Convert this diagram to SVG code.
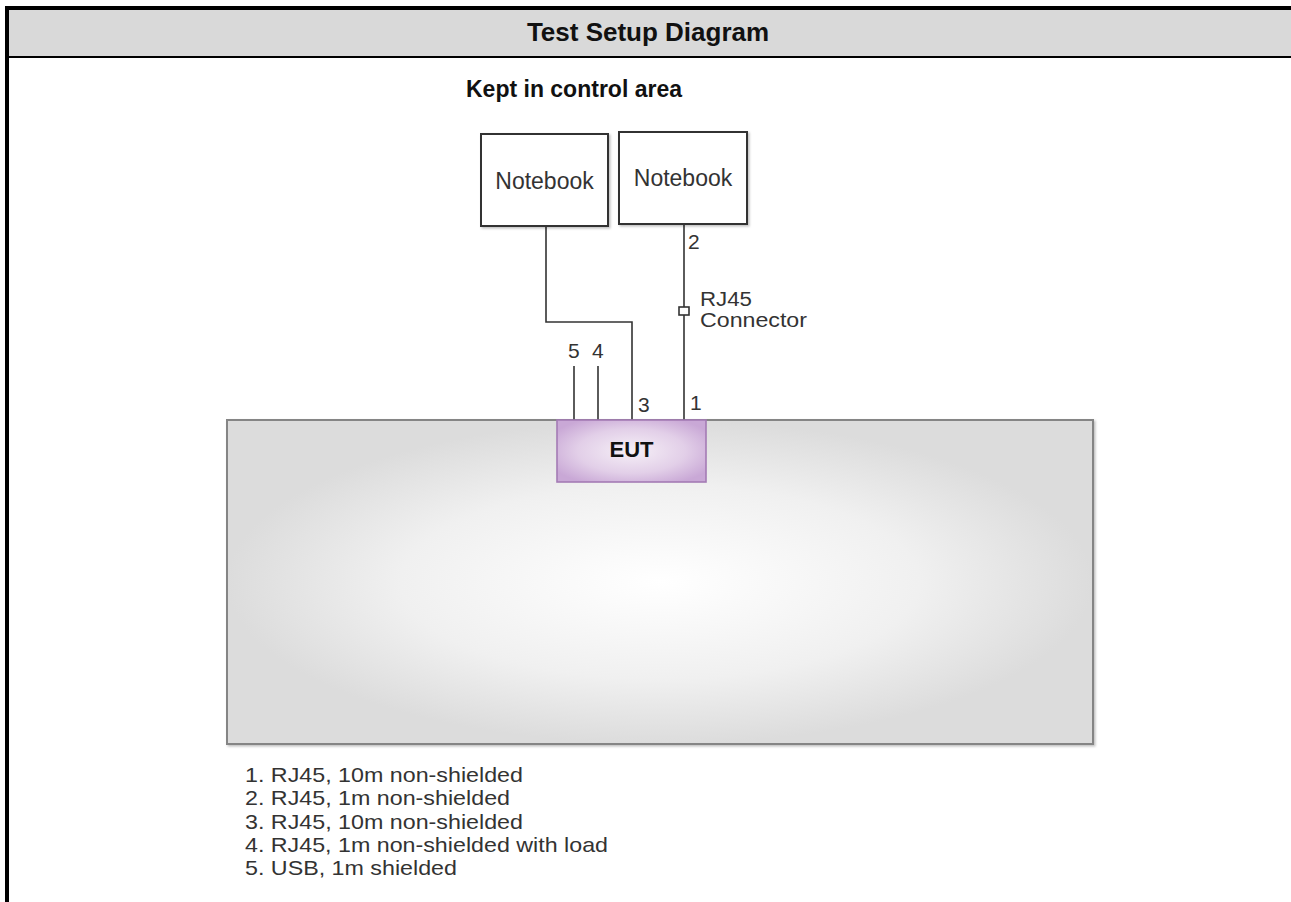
<svg xmlns="http://www.w3.org/2000/svg" width="1291" height="902" viewBox="0 0 1291 902">
<defs>
<radialGradient id="tableGrad" cx="0.5" cy="0.5" r="0.5">
<stop offset="0" stop-color="#ffffff"/>
<stop offset="0.6" stop-color="#f0f0f0"/>
<stop offset="1" stop-color="#dcdcdc"/>
</radialGradient>
<radialGradient id="eutGrad" cx="0.5" cy="0.5" r="0.6">
<stop offset="0" stop-color="#f6f0f7"/>
<stop offset="0.6" stop-color="#e2cfe8"/>
<stop offset="1" stop-color="#c9a8d6"/>
</radialGradient>
<filter id="shadow" x="-10%" y="-10%" width="130%" height="130%">
<feDropShadow dx="1.5" dy="1.5" stdDeviation="1" flood-color="#000" flood-opacity="0.25"/>
</filter>
</defs>
<style>
.t { font-family: "Liberation Sans", Arial, sans-serif; fill: #333; }
.b { font-family: "Liberation Sans", Arial, sans-serif; font-weight: bold; fill: #111; }
.wire { fill: none; stroke: #333; stroke-width: 1.6; }
.nb { fill: #fff; stroke: #333; stroke-width: 2; }
</style>
<rect x="0" y="0" width="1291" height="902" fill="#fff"/>
<!-- table frame -->
<rect x="9" y="10" width="1282" height="46" fill="#d9d9d9"/>
<rect x="5" y="6" width="1286" height="4" fill="#000"/>
<rect x="5" y="6" width="4" height="896" fill="#000"/>
<rect x="9" y="56" width="1282" height="2" fill="#000"/>
<text class="b" x="648" y="41" font-size="26" text-anchor="middle">Test Setup Diagram</text>
<text class="b" x="466" y="97" font-size="23">Kept in control area</text>

<g id="table">
<rect x="227" y="420" width="866" height="324" fill="url(#tableGrad)" stroke="#858585" stroke-width="2" filter="url(#shadow)"/>
</g>

<g id="connectors">
<polyline class="wire" points="546,226 546,322 632,322 632,420"/>
<line class="wire" x1="684" y1="224" x2="684" y2="420"/>
<rect x="679" y="307" width="10" height="8" fill="#fff" stroke="#333" stroke-width="1.6"/>
<line class="wire" x1="574" y1="366" x2="574" y2="420"/>
<line class="wire" x1="598" y1="366" x2="598" y2="420"/>
<text class="t" x="688" y="249" font-size="21">2</text>
<text class="t" x="700" y="306" font-size="20" textLength="52" lengthAdjust="spacingAndGlyphs">RJ45</text>
<text class="t" x="700" y="327" font-size="20" textLength="107" lengthAdjust="spacingAndGlyphs">Connector</text>
<text class="t" x="568" y="358" font-size="21">5</text>
<text class="t" x="592" y="358" font-size="21">4</text>
<text class="t" x="638" y="412" font-size="21">3</text>
<text class="t" x="690" y="410" font-size="21">1</text>
</g>

<g id="notebook1">
<rect class="nb" x="481" y="134" width="127" height="92" filter="url(#shadow)"/>
<text class="t" x="544.5" y="189" font-size="23" text-anchor="middle">Notebook</text>
</g>
<g id="notebook2">
<rect class="nb" x="619" y="132" width="128" height="92" filter="url(#shadow)"/>
<text class="t" x="683" y="186" font-size="23" text-anchor="middle">Notebook</text>
</g>

<g id="eut">
<rect x="557" y="420" width="149" height="62" fill="url(#eutGrad)" stroke="#a47bb5" stroke-width="1.6"/>
<text class="b" x="631.5" y="457" font-size="22" text-anchor="middle">EUT</text>
</g>

<g id="legend">
<text class="t" x="245" y="782" font-size="21" textLength="278" lengthAdjust="spacingAndGlyphs">1. RJ45, 10m non-shielded</text>
<text class="t" x="245" y="805" font-size="21" textLength="265" lengthAdjust="spacingAndGlyphs">2. RJ45, 1m non-shielded</text>
<text class="t" x="245" y="828.5" font-size="21" textLength="278" lengthAdjust="spacingAndGlyphs">3. RJ45, 10m non-shielded</text>
<text class="t" x="245" y="852" font-size="21" textLength="363" lengthAdjust="spacingAndGlyphs">4. RJ45, 1m non-shielded with load</text>
<text class="t" x="245" y="875" font-size="21" textLength="212" lengthAdjust="spacingAndGlyphs">5. USB, 1m shielded</text>
</g>
</svg>
